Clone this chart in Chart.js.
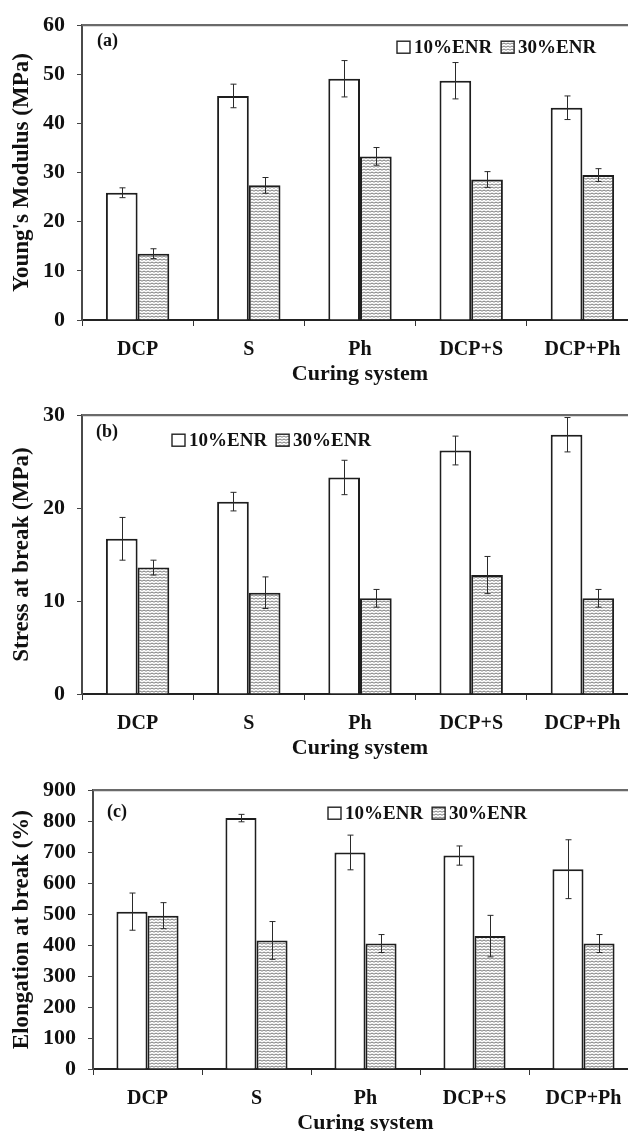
<!DOCTYPE html>
<html>
<head>
<meta charset="utf-8">
<script src="https://cdn.jsdelivr.net/npm/chart.js@4/dist/chart.umd.min.js"></script>
<style>
  html, body { margin: 0; padding: 0; background: #fff; }
  #wrap { position: relative; width: 628px; height: 1131px; overflow: hidden; background: #fff; }
  canvas { position: absolute; left: 0; }
</style>
</head>
<body>
<div id="wrap">
  <canvas id="ca" width="640" height="390" style="top:0px"></canvas>
  <canvas id="cb" width="640" height="375" style="top:390px"></canvas>
  <canvas id="cc" width="640" height="380" style="top:765px"></canvas>
</div>
<script>
// ---------- DATA ----------
const categories = ['DCP', 'S', 'Ph', 'DCP+S', 'DCP+Ph'];
const seriesLabels = ['10%ENR', '30%ENR'];

const modulus10    = [25.9, 45.6, 49.1, 48.7, 43.2];
const modulus10Err = [1.0, 2.4, 3.7, 3.7, 2.4];
const modulus30    = [13.5, 27.4, 33.3, 28.6, 29.5];
const modulus30Err = [1.0, 1.6, 1.8, 1.6, 1.3];

const stress10     = [16.7, 20.7, 23.3, 26.2, 27.9];
const stress10Err  = [2.3, 1.0, 1.85, 1.55, 1.85];
const stress30     = [13.6, 10.9, 10.3, 12.8, 10.3];
const stress30Err  = [0.8, 1.7, 0.95, 2.0, 0.95];

const elong10      = [508, 810, 699, 689, 645];
const elong10Err   = [60, 12, 56, 31, 95];
const elong30      = [495, 415, 405, 429, 405];
const elong30Err   = [42, 61, 29, 67, 29];

const ticksA = [0, 10, 20, 30, 40, 50, 60];
const ticksB = [0, 10, 20, 30];
const ticksC = [0, 100, 200, 300, 400, 500, 600, 700, 800, 900];

const yTitleA = "Young's Modulus (MPa)";
const yTitleB = 'Stress at break (MPa)';
const yTitleC = 'Elongation at break (%)';
const xTitle = 'Curing system';

// ---------- STYLE ----------
const FONT = '"Liberation Serif", "Times New Roman", serif';
const INK = '#111';

function makePattern() {
  const c = document.createElement('canvas');
  c.width = 4; c.height = 3;
  const g = c.getContext('2d');
  g.fillStyle = '#fff';
  g.fillRect(0, 0, 4, 3);
  g.strokeStyle = '#777';
  g.lineWidth = 1;
  g.beginPath();
  g.moveTo(0, 1); g.lineTo(2, 2.2); g.lineTo(4, 1);
  g.stroke();
  return g.createPattern(c, 'repeat');
}
const hatch = makePattern();

const errorBarPlugin = {
  id: 'errorBars',
  afterDatasetsDraw(chart) {
    const ctx = chart.ctx;
    const y = chart.scales.y;
    ctx.save();
    ctx.strokeStyle = '#2a2a2a';
    ctx.lineWidth = 1;
    chart.data.datasets.forEach((ds, di) => {
      const meta = chart.getDatasetMeta(di);
      meta.data.forEach((bar, i) => {
        const v = ds.data[i], e = ds.err[i];
        const x = Math.round(bar.x) + 0.5;
        const yt = y.getPixelForValue(v + e);
        const yb = y.getPixelForValue(v - e);
        ctx.beginPath();
        ctx.moveTo(x, yt); ctx.lineTo(x, yb);
        ctx.moveTo(x - 3, yt); ctx.lineTo(x + 3, yt);
        ctx.moveTo(x - 3, yb); ctx.lineTo(x + 3, yb);
        ctx.stroke();
      });
    });
    ctx.restore();
  }
};

const frameAndLegendPlugin = {
  id: 'frameLegend',
  beforeDatasetsDraw(chart) {
    const a = chart.chartArea, ctx = chart.ctx;
    ctx.save();
    ctx.strokeStyle = '#6a6a6a';
    ctx.lineWidth = 2.2;
    ctx.beginPath();
    ctx.moveTo(a.left, a.top); ctx.lineTo(a.right, a.top); ctx.lineTo(a.right, a.bottom);
    ctx.stroke();
    ctx.restore();
  },
  afterDraw(chart, args, opts) {
    const a = chart.chartArea, ctx = chart.ctx;
    ctx.save();
    ctx.fillStyle = INK;
    ctx.font = 'bold 18px ' + FONT;
    ctx.textBaseline = 'middle';
    ctx.textAlign = 'left';
    ctx.fillText(opts.panel, opts.panelX, a.top + opts.panelDy);
    ctx.font = 'bold 19px ' + FONT;
    let x = opts.legendX;
    const cy = a.top + opts.legendDy;
    chart.data.datasets.forEach(ds => {
      ctx.fillStyle = ds.backgroundColor;
      ctx.fillRect(x, cy - 6, 13, 12);
      ctx.strokeStyle = '#222';
      ctx.lineWidth = 1.4;
      ctx.strokeRect(x, cy - 6, 13, 12);
      ctx.fillStyle = INK;
      ctx.fillText(ds.label, x + 17, cy + 1);
      x += 17 + ctx.measureText(ds.label).width + 9;
    });
    ctx.restore();
  }
};

function makeChart(id, d10, e10, d30, e30, ticks, yTitle, L) {
  return new Chart(document.getElementById(id), {
    type: 'bar',
    data: {
      labels: categories,
      datasets: [
        { label: seriesLabels[0], data: d10, err: e10, backgroundColor: '#ffffff',
          borderColor: '#1e1e1e', borderWidth: 2 },
        { label: seriesLabels[1], data: d30, err: e30, backgroundColor: hatch,
          borderColor: '#1e1e1e', borderWidth: 2 }
      ]
    },
    options: {
      responsive: false,
      animation: false,
      devicePixelRatio: 1,
      layout: { padding: { top: L.padTop, right: 2, left: 0, bottom: 0 } },
      datasets: { bar: { categoryPercentage: 0.57, barPercentage: 1.0 } },
      plugins: {
        legend: { display: false },
        tooltip: { enabled: false },
        frameLegend: L
      },
      scales: {
        x: {
          grid: { display: true, drawOnChartArea: false, drawTicks: true, tickLength: 6,
                  color: '#333', lineWidth: 1, offset: true },
          border: { display: true, color: '#222', width: 2 },
          ticks: { color: INK, font: { family: FONT, size: 20, weight: 'bold' }, padding: 12,
                   maxRotation: 0, autoSkip: false },
          title: { display: true, text: xTitle, color: INK,
                   font: { family: FONT, size: 22, weight: 'bold' },
                   padding: { top: 0, bottom: L.titlePad } },
          afterFit(s) { s.height = L.xHeight; }
        },
        y: {
          min: ticks[0], max: ticks[ticks.length - 1],
          afterBuildTicks(s) { s.ticks = ticks.map(v => ({ value: v })); },
          grid: { display: true, drawOnChartArea: false, drawTicks: true, tickLength: 5,
                  color: '#444', lineWidth: 1 },
          border: { display: true, color: '#4a4a4a', width: 2 },
          ticks: { color: INK, font: { family: FONT, size: 22, weight: 'bold' }, padding: 12 },
          title: { display: true, text: yTitle, color: INK,
                   font: { family: FONT, size: 23, weight: 'bold' },
                   padding: { top: 8, bottom: 0 } },
          afterFit(s) { s.width = L.yWidth; }
        }
      }
    },
    plugins: [frameAndLegendPlugin, errorBarPlugin]
  });
}

makeChart('ca', modulus10, modulus10Err, modulus30, modulus30Err, ticksA, yTitleA,
  { padTop: 20, yWidth: 82, xHeight: 70, titlePad: 2, legendX: 397, legendDy: 22,
    panel: '(a)', panelX: 97, panelDy: 16 });
makeChart('cb', stress10, stress10Err, stress30, stress30Err, ticksB, yTitleB,
  { padTop: 8, yWidth: 82, xHeight: 71, titlePad: 3, legendX: 172, legendDy: 25,
    panel: '(b)', panelX: 96, panelDy: 17 });
makeChart('cc', elong10, elong10Err, elong30, elong30Err, ticksC, yTitleC,
  { padTop: 8, yWidth: 93, xHeight: 76, titlePad: 8, legendX: 328, legendDy: 23,
    panel: '(c)', panelX: 107, panelDy: 22 });
</script>
</body>
</html>
